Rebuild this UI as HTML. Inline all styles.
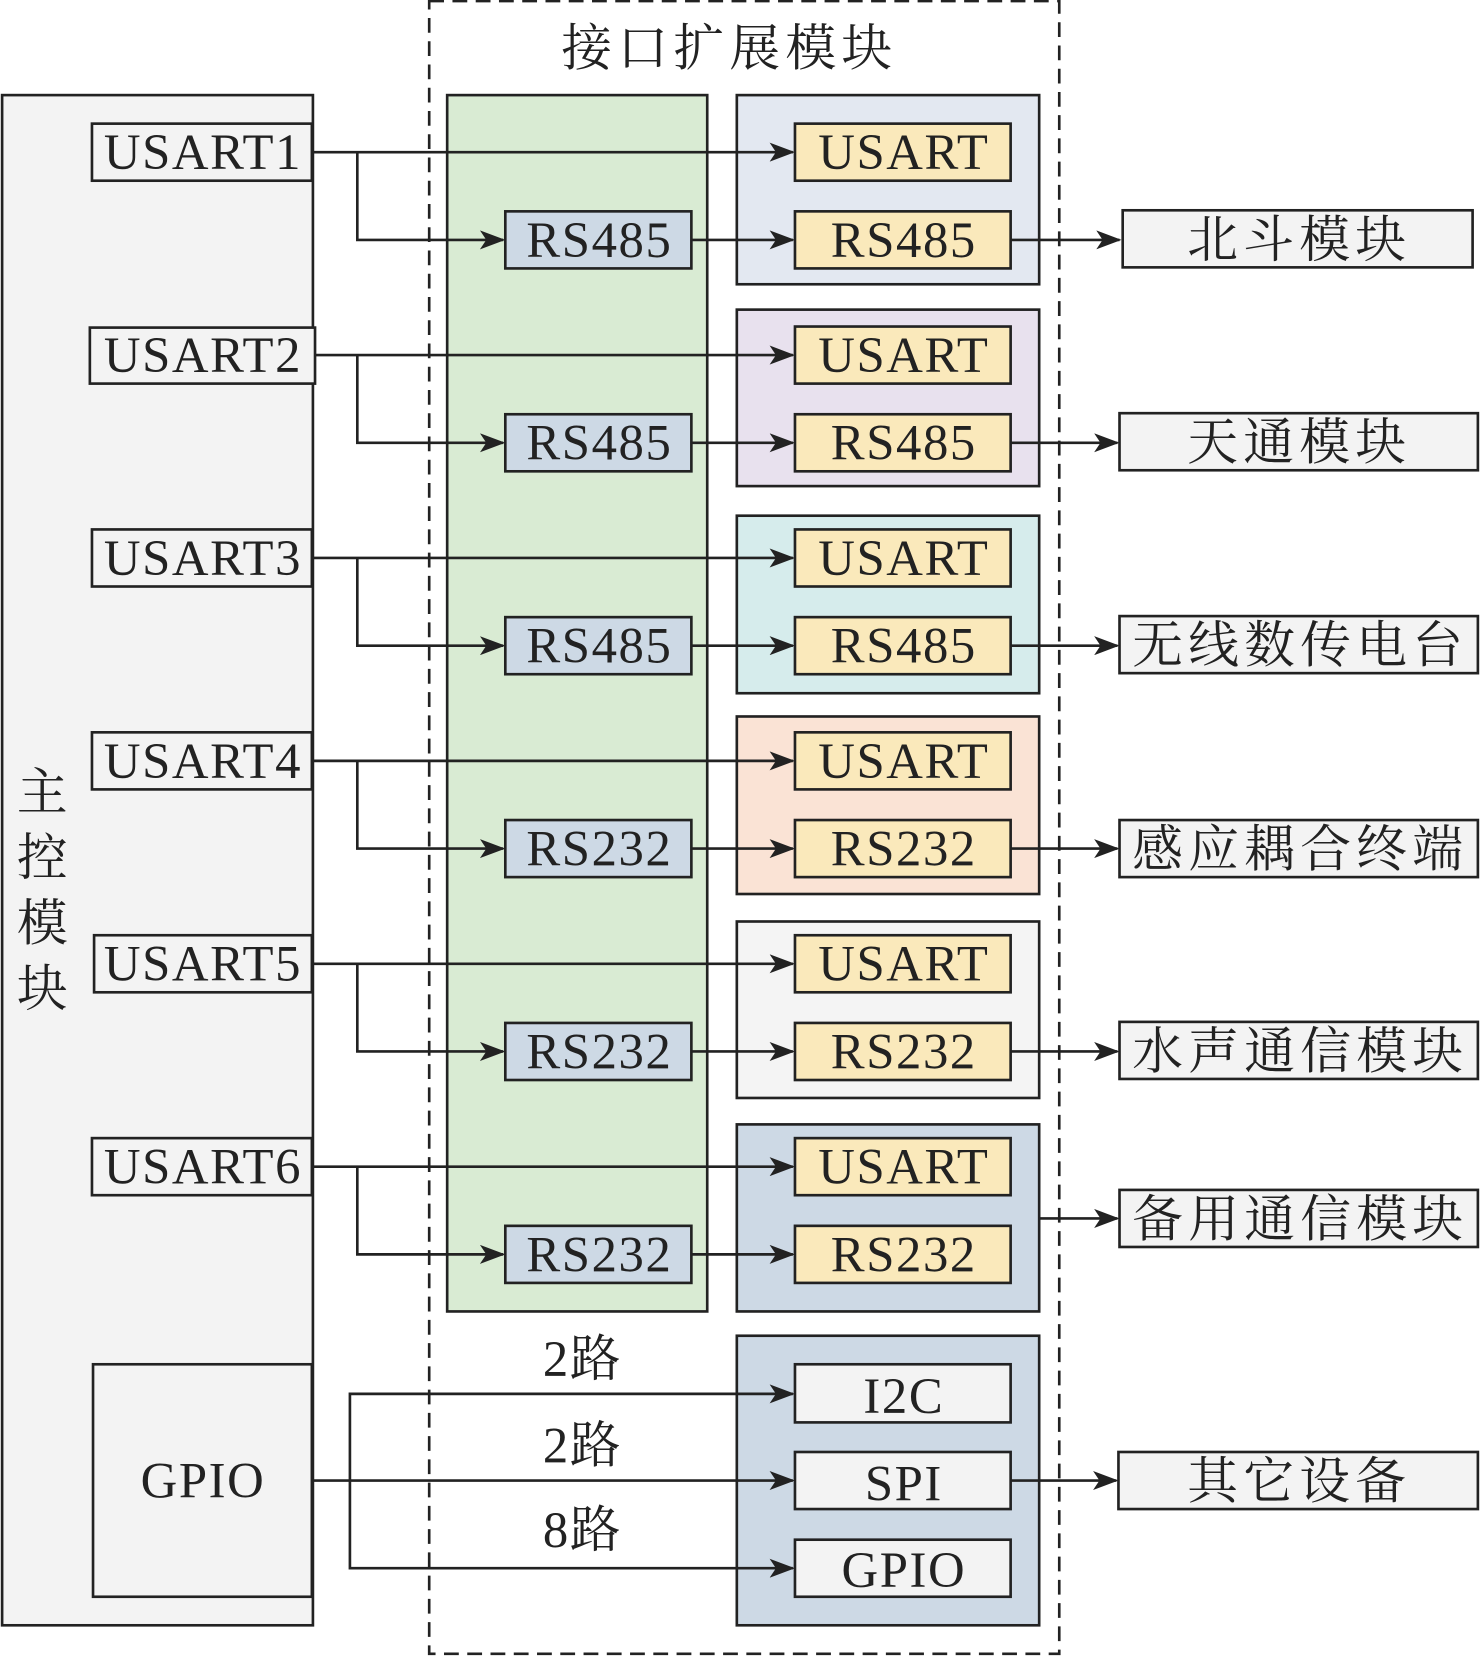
<!DOCTYPE html>
<html><head><meta charset="utf-8"><style>
html,body{margin:0;padding:0;background:#fff;}
svg{display:block;}
text{font-family:"Liberation Serif","Noto Serif CJK SC",serif;fill:#222;}
.cn{letter-spacing:5px;}
.en{letter-spacing:1.5px;}
</style></head><body>
<svg width="1480" height="1657" viewBox="0 0 1400 1568" preserveAspectRatio="none" xmlns="http://www.w3.org/2000/svg">
<defs>
<marker id="a" markerWidth="24" markerHeight="18" refX="22" refY="9" orient="auto" markerUnits="userSpaceOnUse">
<path d="M0,0 L24,9 L0,18 L6,9 Z" fill="#222"/>
</marker>
</defs>
<g stroke="#222" stroke-width="2.5">
<rect x="406" y="1" width="596" height="1564" fill="none" stroke-dasharray="14,8"/>
<rect x="2" y="90" width="294" height="1448" fill="#f3f3f3"/>
<rect x="423" y="90" width="246" height="1151" fill="#d9ebd3"/>
<rect x="697" y="90" width="286" height="179" fill="#e3e8f1"/>
<rect x="697" y="293" width="286" height="167" fill="#e8e1ee"/>
<rect x="697" y="488" width="286" height="168" fill="#d6ecec"/>
<rect x="697" y="678" width="286" height="168" fill="#fae3d5"/>
<rect x="697" y="872" width="286" height="167" fill="#f4f4f4"/>
<rect x="697" y="1064" width="286" height="177" fill="#cdd9e5"/>
<rect x="697" y="1264" width="286" height="274" fill="#cdd9e5"/>
<rect x="87" y="117" width="208" height="54" fill="#f3f3f3"/>
<rect x="85" y="310" width="213" height="53" fill="#f3f3f3"/>
<rect x="87" y="501" width="208" height="54" fill="#f3f3f3"/>
<rect x="87" y="693" width="208" height="54" fill="#f3f3f3"/>
<rect x="89" y="885" width="206" height="54" fill="#f3f3f3"/>
<rect x="87" y="1077" width="208" height="54" fill="#f3f3f3"/>
<rect x="88" y="1291" width="207" height="220" fill="#f3f3f3"/>
<g fill="#cdd9e5">
<rect x="478" y="200" width="176" height="54"/>
<rect x="478" y="392" width="176" height="54"/>
<rect x="478" y="584" width="176" height="54"/>
<rect x="478" y="776" width="176" height="54"/>
<rect x="478" y="968" width="176" height="54"/>
<rect x="478" y="1160" width="176" height="54"/>
</g>
<g fill="#fae9bb">
<rect x="752" y="117" width="204" height="54"/><rect x="752" y="200" width="204" height="54"/>
<rect x="752" y="309" width="204" height="54"/><rect x="752" y="392" width="204" height="54"/>
<rect x="752" y="501" width="204" height="54"/><rect x="752" y="584" width="204" height="54"/>
<rect x="752" y="693" width="204" height="54"/><rect x="752" y="776" width="204" height="54"/>
<rect x="752" y="885" width="204" height="54"/><rect x="752" y="968" width="204" height="54"/>
<rect x="752" y="1077" width="204" height="54"/><rect x="752" y="1160" width="204" height="54"/>
</g>
<g fill="#f3f3f3">
<rect x="752" y="1291" width="204" height="55"/>
<rect x="752" y="1374" width="204" height="54"/>
<rect x="752" y="1457" width="204" height="54"/>
<rect x="1062" y="199" width="331" height="54"/>
<rect x="1059" y="391" width="339" height="54"/>
<rect x="1059" y="583" width="339" height="54"/>
<rect x="1059" y="776" width="339" height="54"/>
<rect x="1059" y="967" width="339" height="54"/>
<rect x="1059" y="1126" width="339" height="54"/>
<rect x="1058" y="1374" width="340" height="54"/>
</g>
<g fill="none" marker-end="url(#a)">
<path d="M296,144 H750"/><path d="M338,144 V227 H476"/><path d="M654,227 H750"/><path d="M956,227 H1059"/>
<path d="M298,336 H750"/><path d="M338,336 V419 H476"/><path d="M654,419 H750"/><path d="M956,419 H1057"/>
<path d="M296,528 H750"/><path d="M338,528 V611 H476"/><path d="M654,611 H750"/><path d="M956,611 H1057"/>
<path d="M296,720 H750"/><path d="M338,720 V803 H476"/><path d="M654,803 H750"/><path d="M956,803 H1057"/>
<path d="M296,912 H750"/><path d="M338,912 V995 H476"/><path d="M654,995 H750"/><path d="M956,995 H1057"/>
<path d="M296,1104 H750"/><path d="M338,1104 V1187 H476"/><path d="M654,1187 H750"/><path d="M983,1153 H1057"/>
<path d="M296,1401 H750"/><path d="M331,1401 V1319 H750"/><path d="M331,1401 V1484 H750"/><path d="M956,1401 H1056"/>
</g>
</g>
<g font-size="48" text-anchor="middle">
<text class="cn" x="690" y="62">接口扩展模块</text>
<text x="40" y="766">主</text><text x="40" y="828">控</text><text x="40" y="890">模</text><text x="40" y="952">块</text>
</g>
<g font-size="48" text-anchor="middle" class="en">
<text x="192" y="160">USART1</text><text x="192" y="352">USART2</text><text x="192" y="544">USART3</text>
<text x="192" y="736">USART4</text><text x="192" y="928">USART5</text><text x="192" y="1120">USART6</text>
<text x="192" y="1417">GPIO</text>
<text x="567" y="243">RS485</text><text x="567" y="435">RS485</text><text x="567" y="627">RS485</text>
<text x="567" y="819">RS232</text><text x="567" y="1011">RS232</text><text x="567" y="1203">RS232</text>
<text x="855" y="160">USART</text><text x="855" y="243">RS485</text>
<text x="855" y="352">USART</text><text x="855" y="435">RS485</text>
<text x="855" y="544">USART</text><text x="855" y="627">RS485</text>
<text x="855" y="736">USART</text><text x="855" y="819">RS232</text>
<text x="855" y="928">USART</text><text x="855" y="1011">RS232</text>
<text x="855" y="1120">USART</text><text x="855" y="1203">RS232</text>
<text x="855" y="1337">I2C</text><text x="855" y="1420">SPI</text><text x="855" y="1502">GPIO</text>
<text x="551" y="1302">2路</text><text x="551" y="1384">2路</text><text x="551" y="1464">8路</text>
</g>
<g font-size="48" text-anchor="middle" class="cn">
<text x="1229" y="243">北斗模块</text><text x="1229" y="435">天通模块</text>
<text x="1230" y="627">无线数传电台</text><text x="1230" y="820">感应耦合终端</text>
<text x="1230" y="1011">水声通信模块</text><text x="1230" y="1170">备用通信模块</text>
<text x="1229" y="1418">其它设备</text>
</g>
</svg>
</body></html>
